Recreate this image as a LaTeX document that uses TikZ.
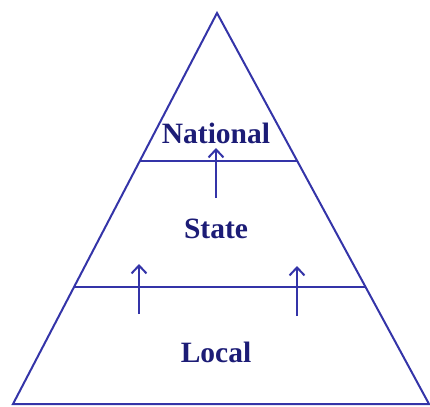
\documentclass[tikz,border=0pt]{standalone}
\usepackage{fontspec}
\setmainfont{Liberation Serif}
\usetikzlibrary{arrows.meta}
\definecolor{pyrline}{RGB}{52,52,168}
\definecolor{pyrtext}{RGB}{28,28,118}

\begin{document}
\begin{tikzpicture}[%
		>={Straight Barb[length=8pt,width=15pt]},
		x=1pt, y=-1pt,
		level/.style={rectangle, text=pyrtext, font=\fontsize{29.5}{31}\selectfont\bfseries}
		]
		\useasboundingbox (0,0) rectangle (430,406);
		%%%%%%%%%%%%%%%
		%   CORNERS   %
		%%%%%%%%%%%%%%%
		\coordinate (apex) at (217,13);
		\coordinate (bl) at (13,404);
		\coordinate (br) at (429,404);
		\coordinate (ul) at (139.5,161);
		\coordinate (ur) at (297.5,161);
		\coordinate (ll) at (74.5,287);
		\coordinate (lr) at (366,287);
		
		%%%%%%%%%%%%%%%
		%    NODES    %
		%%%%%%%%%%%%%%%
		\node[level] (nat) at (216,133) {National};
		\node[level] (sta) at (216,229) {State};
		\node[level] (loc) at (216,352) {Local};
		
		% arrow ends
		\coordinate (natfrom) at (216,198);
		\coordinate (natto) at (216,148);
		\coordinate (lfrom) at (139,314);
		\coordinate (lto) at (139,264);
		\coordinate (rfrom) at (297,316);
		\coordinate (rto) at (297,266);
		
		%%%%%%%%%%%%%%%
		% CONNECTIONS %
		%%%%%%%%%%%%%%%
		\draw[line width=2, pyrline, line join=miter] (apex) -- (br) -- (bl) -- cycle;
		\draw[line width=2, pyrline] (ul) -- (ur);
		\draw[line width=2, pyrline] (ll) -- (lr);
		
		\path[line width=2, pyrline, ->]
		(natfrom) edge (natto)
		(lfrom) edge (lto)
		(rfrom) edge (rto);
		
	\end{tikzpicture}
\end{document}
